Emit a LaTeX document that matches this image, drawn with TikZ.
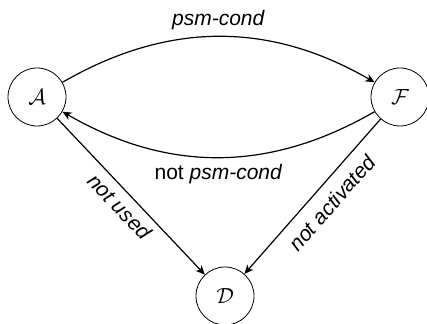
\documentclass[tikz,border=0pt]{standalone}
\usepackage{fontspec}
\setmainfont{Liberation Sans}
\usetikzlibrary{arrows.meta}
\begin{document}
\begin{tikzpicture}[x=0.5pt,y=0.5pt,
  state/.style={draw, circle, minimum size=29pt, inner sep=0pt, font=\fontsize{10.5}{12}\selectfont},
  edge/.style={semithick, -{Stealth[length=4.5pt,width=4pt,inset=1.2pt]}},
  lbl/.style={font=\fontsize{10.5}{12}\selectfont}]
\useasboundingbox (0,0) rectangle (427,324);
\node[state] (A) at (37,227) {$\mathcal{A}$};
\node[state] (F) at (400,227) {$\mathcal{F}$};
\node[state] (D) at (225,28) {$\mathcal{D}$};
\draw[edge] (A) to[bend left=30] node[lbl, midway, above] {\textit{psm-cond}} (F);
\draw[edge] (F) to[bend left=30] node[lbl, midway, below] {not \textit{psm-cond}} (A);
\draw[edge] (A) -- node[lbl, midway, sloped, below] {\textit{not used}} (D);
\draw[edge] (F) -- node[lbl, pos=0.46, sloped, below, yshift=-2pt] {\textit{not activated}} (D);
\end{tikzpicture}
\end{document}
